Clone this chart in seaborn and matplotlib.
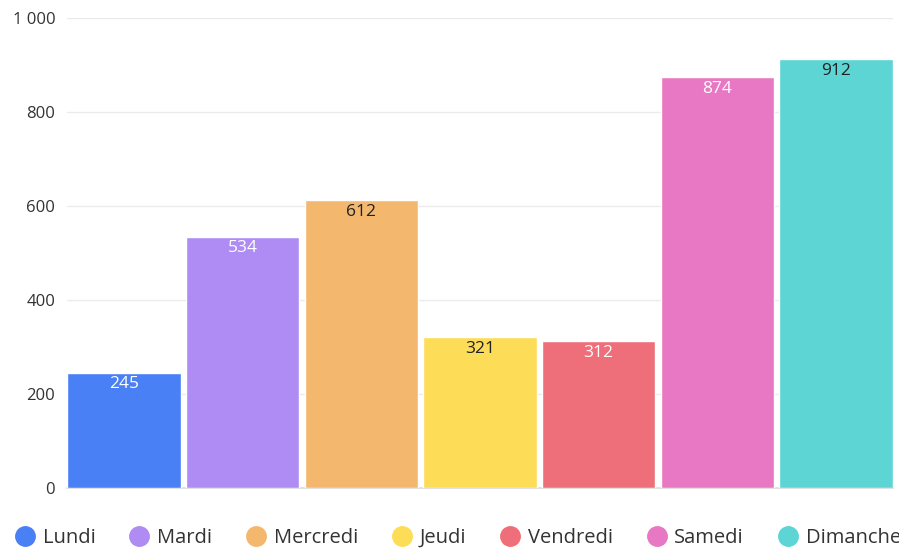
import matplotlib
matplotlib.use("Agg")
import matplotlib.pyplot as plt
import seaborn as sns
import pandas as pd
from matplotlib.lines import Line2D
from matplotlib.ticker import FuncFormatter

days = ["Lundi", "Mardi", "Mercredi", "Jeudi", "Vendredi", "Samedi", "Dimanche"]
values = [245, 534, 612, 321, 312, 874, 912]
colors = ["#4a80f5", "#ae8cf4", "#f3b76e", "#fddc58", "#ee6f79", "#e878c4", "#5dd5d4"]
label_colors = ["white", "white", "#222222", "#222222", "white", "white", "#222222"]
yticks = [0, 200, 400, 600, 800, 1000]

sns.set_theme(style="white")
plt.rcParams["font.family"] = ["Open Sans", "DejaVu Sans"]

df = pd.DataFrame({"jour": days, "valeur": values})

fig = plt.figure(figsize=(8.99, 5.5), dpi=100)
ax = fig.add_axes([0.0745, 0.1127, 0.9933 - 0.0745, 0.9673 - 0.1127])

sns.barplot(data=df, x="jour", y="valeur", hue="jour", palette=colors,
            width=0.955, legend=False, ax=ax, saturation=1, zorder=3)

ax.set_xlim(-0.48, 6.48)
ax.set_ylim(0, 1000)
ax.set_yticks(yticks)
ax.yaxis.set_major_formatter(FuncFormatter(lambda v, p: f"{int(v):,}".replace(",", " ")))
ax.set_xticks([])
ax.set_xlabel("")
ax.set_ylabel("")
ax.grid(axis="y", color="#ebebeb", linewidth=1, zorder=0)
ax.tick_params(axis="y", length=0, pad=8.5, labelsize=12, labelcolor="#333333")
for s in ["top", "right", "left"]:
    ax.spines[s].set_visible(False)
ax.spines["bottom"].set_color("#dddddd")

for i, (v, c) in enumerate(zip(values, label_colors)):
    ax.annotate(f"{v}", xy=(i, v), xytext=(0, -2.5), textcoords="offset points",
                ha="center", va="top", color=c, fontsize=12.5, zorder=4)

handles = [Line2D([0], [0], marker="o", linestyle="none", markersize=14,
                  markerfacecolor=col, markeredgecolor=col) for col in colors]
fig.legend(handles, days, loc="center left", bbox_to_anchor=(0.0167, 0.022),
           ncol=7, frameon=False, fontsize=14.5, handlelength=0.98,
           handletextpad=0.4, columnspacing=1.68, labelcolor="#333333",
           borderaxespad=0, borderpad=0)

fig.savefig("out.png", dpi=100)
